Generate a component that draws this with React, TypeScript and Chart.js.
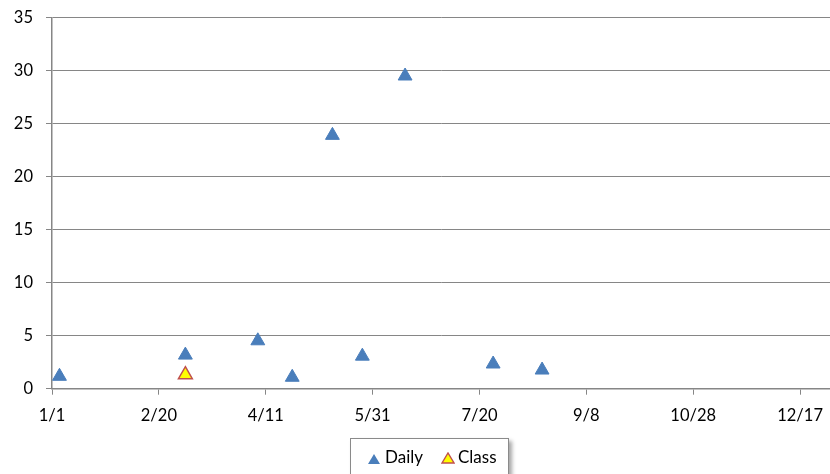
import React, { useEffect, useRef } from "react";
import { Chart, registerables } from "chart.js";

Chart.register(...registerables);

// Day of year (0 = 1/1) and values
const dailyDays = [3.5, 62.4, 96.3, 112.4, 131.2, 145.2, 165.2, 206.4, 229.3];
const dailyValues = [1.17, 3.17, 4.52, 1.08, 23.9, 3.07, 29.5, 2.33, 1.76];
const classDays = [62.4];
const classValues = [1.32];
const xTickDays = [0, 50, 100, 150, 200, 250, 300, 350];
const xTickLabels = ["1/1", "2/20", "4/11", "5/31", "7/20", "9/8", "10/28", "12/17"];
const seriesNames = ["Daily", "Class"];

const FONT = "Lato, 'Open Sans', sans-serif";
const GRID = "#868686";

function Tri({ fill, stroke }: { fill: string; stroke: string }) {
  return (
    <svg width="14" height="12" style={{ display: "block" }}>
      <polygon points="1,11 7,1 13,11" fill={fill} stroke={stroke} strokeWidth={stroke === fill ? 0 : 1.4} />
    </svg>
  );
}

export default function App() {
  const ref = useRef<HTMLCanvasElement | null>(null);
  useEffect(() => {
    if (!ref.current) return;
    const chart = new Chart(ref.current, {
      type: "scatter",
      data: {
        datasets: [
          {
            label: seriesNames[0],
            data: dailyDays.map((d, i) => ({ x: d, y: dailyValues[i] })),
            pointStyle: "triangle",
            pointRadius: 8,
            backgroundColor: "#4A7EBB",
            borderColor: "#4A7EBB",
            borderWidth: 1,
          },
          {
            label: seriesNames[1],
            data: classDays.map((d, i) => ({ x: d, y: classValues[i] })),
            pointStyle: "triangle",
            pointRadius: 8,
            backgroundColor: "#FFFF00",
            borderColor: "#C0504D",
            borderWidth: 1.5,
          },
        ],
      },
      options: {
        animation: false,
        responsive: false,
        maintainAspectRatio: false,
        layout: { autoPadding: false, padding: { top: 17.7, right: 0, bottom: 50.3, left: 0 } },
        plugins: { legend: { display: false }, tooltip: { enabled: false } },
        scales: {
          x: {
            type: "linear",
            min: 0,
            max: 364,
            afterBuildTicks: (scale: any) => {
              scale.ticks = xTickDays.map((v) => ({ value: v }));
            },
            afterFit: (scale: any) => {
              scale.height = 35;
              scale.paddingLeft = 0;
              scale.paddingRight = 0;
            },
            ticks: {
              autoSkip: false,
              maxRotation: 0,
              padding: 11,
              color: "#000",
              font: { family: FONT, size: 16.5 },
              callback: (v: any) => {
                const i = xTickDays.indexOf(Number(v));
                return i >= 0 ? xTickLabels[i] : "";
              },
            },
            grid: {
              drawOnChartArea: false,
              drawTicks: true,
              tickLength: 6,
              color: GRID,
              lineWidth: 1,
            },
            border: { color: GRID, width: 1.5 },
          },
          y: {
            min: 0,
            max: 35,
            afterFit: (scale: any) => {
              scale.width = 52;
              scale.paddingTop = 0;
              scale.paddingBottom = 0;
            },
            ticks: {
              stepSize: 5,
              padding: 13,
              color: "#000",
              font: { family: FONT, size: 16.5 },
            },
            grid: {
              drawOnChartArea: true,
              drawTicks: true,
              tickLength: 6,
              color: GRID,
              lineWidth: 1,
            },
            border: { color: GRID, width: 1.5 },
          },
        },
      },
    });
    return () => chart.destroy();
  }, []);

  return (
    <div style={{ position: "fixed", left: 0, top: 0, width: 830, height: 474, background: "#fff", overflow: "hidden" }}>
      <canvas ref={ref} width={830} height={474} style={{ width: 830, height: 474, display: "block" }} />
      <div
        style={{
          position: "absolute",
          left: 350,
          top: 438,
          width: 159,
          height: 45,
          border: "1px solid #8a8a8a",
          background: "#fff",
          boxShadow: "3px 3px 4px rgba(0,0,0,0.35)",
          boxSizing: "border-box",
          fontFamily: FONT,
          fontSize: 17,
          color: "#000",
        }}
      >
        <div style={{ position: "absolute", left: 16, top: 14 }}>
          <Tri fill="#4A7EBB" stroke="#4A7EBB" />
        </div>
        <div style={{ position: "absolute", left: 34, top: 8, lineHeight: "20px" }}>{seriesNames[0]}</div>
        <div style={{ position: "absolute", left: 90, top: 13 }}>
          <Tri fill="#FFFF00" stroke="#C0504D" />
        </div>
        <div style={{ position: "absolute", left: 107, top: 8, lineHeight: "20px" }}>{seriesNames[1]}</div>
      </div>
    </div>
  );
}
